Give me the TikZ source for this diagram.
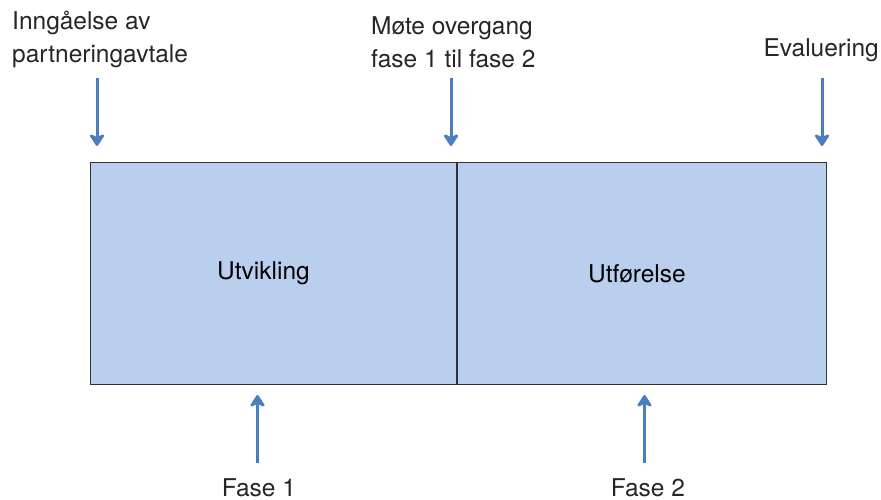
\documentclass[tikz,border=0pt]{standalone}
\usepackage{fontspec}
\setmainfont{TeX Gyre Heros}
\usetikzlibrary{arrows.meta,positioning}
\definecolor{phasefill}{HTML}{BACFEE}
\definecolor{arrowblue}{HTML}{4A7EBF}
\definecolor{edgegray}{HTML}{333333}

\begin{document}
\begin{tikzpicture}[x=1pt,y=1pt,
    phase/.style={draw=edgegray, line width=1pt, fill=phasefill, inner sep=0pt, minimum height=222pt, font=\fontsize{24.5}{32}\selectfont},
    lbl/.style={inner sep=0pt, text=black!85, font=\fontsize{24.5}{33}\selectfont},
    marker/.style={draw=arrowblue, line width=3pt, -{Stealth[length=14pt,width=18pt,inset=4pt,round]}}]
    \useasboundingbox (0,0) rectangle (881,500);

    % the two phases
    \node[phase, minimum width=366pt, anchor=south west] (dev) at (90,115) {Utvikling\hspace*{20pt}};
    \node[phase, minimum width=369pt, anchor=west] (exec) at (dev.east) {Utførelse\hspace*{10pt}};

    % arrow tips
    \coordinate (t1) at ([shift={(7,16)}]dev.north west);
    \coordinate (t2) at ([shift={(-6,16)}]dev.north east);
    \coordinate (t3) at ([shift={(-5,16)}]exec.north east);
    \coordinate (b1) at ([shift={(-16,-10)}]dev.south);
    \coordinate (b2) at ([shift={(2.5,-10)}]exec.south);

    % milestones above
    \node[lbl, align=left, anchor=south west] (start) at (12,432) {Inngåelse av\\partneringavtale};
    \node[lbl, align=left, anchor=south west] (meet) at (371,432) {Møte overgang\\fase 1 til fase 2};
    \node[lbl, anchor=south east] (eval) at (879,438) {Evaluering};

    % phases below
    \node[lbl, anchor=north] (f1) at (259,22) {Fase 1};
    \node[lbl, anchor=north] (f2) at (648,22) {Fase 2};

    \draw[marker, shorten <=10pt] (start.south -| t1) -- (t1);
    \draw[marker, shorten <=10pt] (meet.south -| t2) -- (t2);
    \draw[marker, shorten <=16pt] (eval.south -| t3) -- (t3);
    \draw[marker, shorten <=15pt] (f1.north -| b1) -- (b1);
    \draw[marker, shorten <=15pt] (f2.north -| b2) -- (b2);
\end{tikzpicture}
\end{document}
